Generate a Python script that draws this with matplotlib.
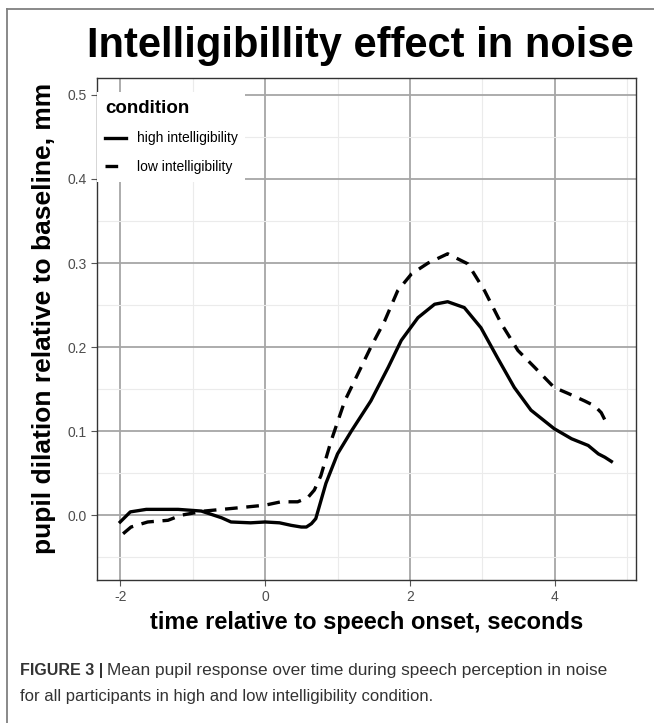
import matplotlib
matplotlib.use("Agg")
import matplotlib.pyplot as plt
from matplotlib.lines import Line2D
import numpy as np

plt.rcParams['font.family'] = ['Liberation Sans', 'DejaVu Sans']

# curva alta inteligibilidad
t_high = [-2.0, -1.86, -1.64, -1.2, -0.88, -0.6, -0.47, -0.2, 0.0, 0.2, 0.36, 0.5, 0.57,
          0.64, 0.7, 0.84, 1.0, 1.19, 1.46, 1.70, 1.88, 2.11, 2.34, 2.52, 2.75, 2.98,
          3.21, 3.44, 3.67, 3.99, 4.23, 4.46, 4.6, 4.69, 4.78]
v_high = [-0.008, 0.004, 0.007, 0.007, 0.005, -0.003, -0.008, -0.009, -0.008, -0.009, -0.012,
          -0.014, -0.014, -0.010, -0.004, 0.038, 0.073, 0.100, 0.136, 0.176, 0.208, 0.235,
          0.251, 0.254, 0.247, 0.223, 0.187, 0.152, 0.125, 0.103, 0.091, 0.083, 0.073, 0.069, 0.064]

# curva baja inteligibilidad
t_low = [-1.96, -1.85, -1.62, -1.34, -1.16, -0.84, -0.47, 0.0, 0.22, 0.45, 0.59, 0.68,
         0.77, 0.91, 1.1, 1.28, 1.46, 1.65, 1.83, 2.02, 2.25, 2.52, 2.8, 3.03, 3.26,
         3.49, 3.72, 3.99, 4.18, 4.41, 4.55, 4.64, 4.71]
v_low = [-0.022, -0.014, -0.008, -0.006, 0.0, 0.005, 0.008, 0.012, 0.016, 0.016, 0.021, 0.030,
         0.047, 0.088, 0.136, 0.168, 0.200, 0.231, 0.267, 0.287, 0.300, 0.311, 0.299, 0.267,
         0.228, 0.196, 0.176, 0.152, 0.145, 0.136, 0.130, 0.122, 0.110]

x_ticks = [-2, 0, 2, 4]
y_ticks = [0.0, 0.1, 0.2, 0.3, 0.4, 0.5]

fig = plt.figure(figsize=(6.54, 7.23), dpi=100)
ax = fig.add_axes([0.1483, 0.1978, 0.8242, 0.6942])

ax.plot(t_high, v_high, color='black', lw=2.4, label='high intelligibility')
ax.plot(t_low, v_low, color='black', lw=2.4, dashes=(3.8, 2.6), label='low intelligibility')

ax.set_xlim(-2.32, 5.12)
ax.set_ylim(-0.077, 0.52)
ax.set_xticks(x_ticks)
ax.set_xticklabels([str(v) for v in x_ticks])
ax.set_yticks(y_ticks)
ax.set_yticklabels([f"{v:.1f}" for v in y_ticks])
ax.set_xticks([-1, 1, 3, 5], minor=True)
ax.set_yticks([-0.05, 0.05, 0.15, 0.25, 0.35, 0.45], minor=True)
ax.grid(True, which='major', color='#a6a6a6', lw=1.3)
ax.grid(True, which='minor', color='#ebebeb', lw=0.8)
ax.set_axisbelow(True)
ax.tick_params(which='major', length=4, color='#555555', labelcolor='#4d4d4d', labelsize=10)
ax.tick_params(which='minor', length=0)
for s in ax.spines.values():
    s.set_color('#333333')
    s.set_linewidth(1.0)

ax.set_xlabel("time relative to speech onset, seconds", fontsize=17, fontweight='bold', labelpad=5)
ax.set_ylabel("pupil dilation relative to baseline, mm", fontsize=19, fontweight='bold')
ax.yaxis.set_label_coords(-0.076, 0.522)
fig.text(0.551, 0.937, "Intelligibillity effect in noise", ha='center', va='center',
         fontsize=30, fontweight='bold')

leg = fig.legend(loc='upper left', bbox_to_anchor=(0.138, 0.882), title='condition',
                 fontsize=10, title_fontproperties={'weight': 'bold', 'size': 13.5},
                 frameon=True, framealpha=1, edgecolor='none', fancybox=False,
                 handlelength=1.55, borderpad=0.55, labelspacing=1.05, handletextpad=0.75)
leg._legend_box.align = 'left'

# pie de figura
fig.canvas.draw()
r = fig.canvas.get_renderer()
b = fig.text(0.03, 0.066, "FIGURE 3 |", fontsize=11.5, fontweight='bold', color='#333333')
bb = b.get_window_extent(renderer=r).transformed(fig.transFigure.inverted())
fig.text(bb.x1 + 0.006, 0.066, "Mean pupil response over time during speech perception in noise",
         fontsize=12.4, color='#333333')
fig.text(0.03, 0.031, "for all participants in high and low intelligibility condition.",
         fontsize=12, color='#333333')

# marco exterior
fig.add_artist(Line2D([0.011, 0.011], [0.0, 0.988], color='#808080', lw=1.3))
fig.add_artist(Line2D([0.011, 1.0], [0.988, 0.988], color='#808080', lw=1.3))

fig.savefig("out.png", dpi=100)
